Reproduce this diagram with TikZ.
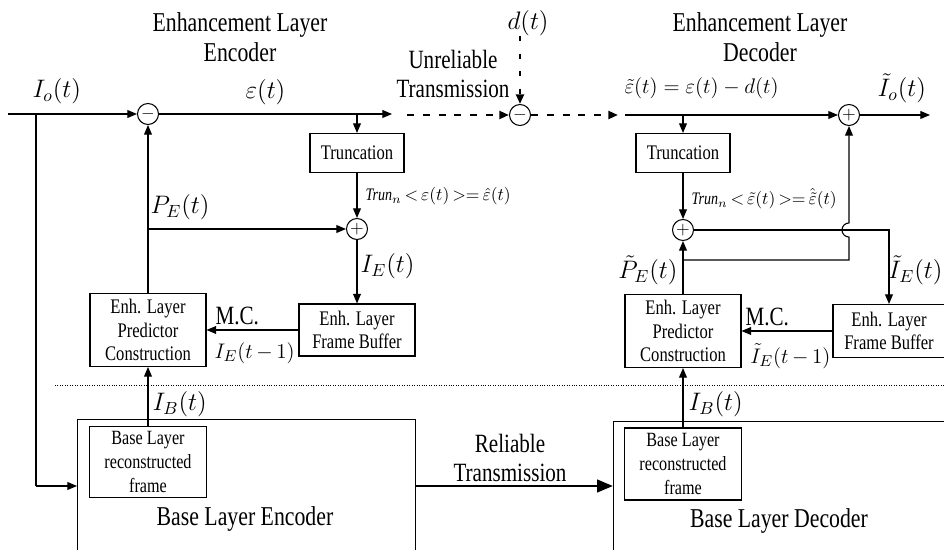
\documentclass[tikz,border=0pt]{standalone}
\usepackage{fontspec}
\setmainfont[FakeStretch=0.8]{Liberation Serif}
\usetikzlibrary{arrows.meta}
\begin{document}
\begin{tikzpicture}[x=0.02cm,y=-0.02cm,line width=0.6pt,
		>={Triangle[length=5.5pt,width=4.5pt]},
		blk/.style={draw,align=center,inner sep=0pt,font=\fontsize{11.8}{13.2}\selectfont},
		sumnode/.style={draw,circle,minimum size=0.42cm,inner sep=0pt,font=\fontsize{10}{10}\selectfont},
		ttl/.style={align=center,font=\fontsize{15.5}{17}\selectfont},
		sig/.style={inner sep=0pt,anchor=west,font=\fontsize{14.5}{14.5}\selectfont},
		trn/.style={inner sep=0pt,anchor=west,font=\fontsize{10}{10}\selectfont},
		lossy/.style={->,line width=1.4pt,dash pattern=on 4pt off 5pt},
		reliable/.style={->,line width=1.7pt,>={Triangle[length=9pt,width=7pt]}}]
	\useasboundingbox (0,0) rectangle (944,550);
	% enhancement layer blocks
	\node[blk,minimum width=1.88cm,minimum height=0.78cm] (trunE) at (357,153) {Truncation};
	\node[blk,minimum width=1.88cm,minimum height=0.78cm] (trunD) at (683,153) {Truncation};
	\node[blk,minimum width=2.32cm,minimum height=1.04cm] (fbE) at (357,330) {Enh. Layer\\Frame Buffer};
	\node[blk,minimum width=2.24cm,minimum height=1.06cm] (fbD) at (889,331) {Enh. Layer\\Frame Buffer};
	\node[blk,minimum width=2.32cm,minimum height=1.46cm] (predE) at (148,330) {Enh. Layer\\Predictor\\Construction};
	\node[blk,minimum width=2.32cm,minimum height=1.46cm] (predD) at (683,331) {Enh. Layer\\Predictor\\Construction};
	\node[sumnode] (subE) at (148,114) {$-$};
	\node[sumnode] (subT) at (520,115) {$-$};
	\node[sumnode] (addE) at (357,229) {$+$};
	\node[sumnode] (addD) at (683,230) {$+$};
	\node[sumnode] (addO) at (849,115) {$+$};
	% base layer
	\node[draw,anchor=north west,minimum width=6.76cm,minimum height=3.6cm] (baseE) at (77,419) {};
	\node[draw,anchor=north west,minimum width=8cm,minimum height=3.6cm] (baseD) at (613,421) {};
	\node[blk,minimum width=2.34cm,minimum height=1.42cm,font=\fontsize{11.5}{13.6}\selectfont] (recE) at (148,462) {Base Layer\\reconstructed\\frame};
	\node[blk,minimum width=2.34cm,minimum height=1.44cm,font=\fontsize{11.5}{13.6}\selectfont] (recD) at (683,464) {Base Layer\\reconstructed\\frame};
	\node[ttl] (baseEtxt) at (245,519) {Base Layer Encoder};
	\node[ttl] (baseDtxt) at (779,521) {Base Layer Decoder};
	% titles
	\node[ttl] (encTitle) at (240,37) {Enhancement Layer\\Encoder};
	\node[ttl] (decTitle) at (760,37) {Enhancement Layer\\Decoder};
	\node[align=center,font=\fontsize{15}{16.5}\selectfont] (unrel) at (453,74) {Unreliable\\Transmission};
	\node[align=center,font=\fontsize{15}{16.5}\selectfont] (rel) at (510,458) {Reliable\\Transmission};
	% free ends and junctions
	\coordinate (src) at (8,114);
	\coordinate (jA) at (36,114);
	\coordinate (jB) at (36,486);
	\coordinate (epsE) at (392,114);
	\coordinate (lossS) at (407,115);
	\coordinate (lossE) at (618,115);
	\coordinate (dS) at (520,36);
	\coordinate (recvS) at (625,115);
	\coordinate (outE) at (930,115);
	\coordinate (jE) at (148,229);
	\coordinate (jP) at (683,260);
	\coordinate (jQ) at (849,260);
	\coordinate (jR) at (849,230);
	% connectors
	\draw[->] (src) -- (subE);
	\draw (jA) -- (jB);
	\draw[->] (jB) -- (baseE.west |- jB);
	\draw[->] (subE) -- (epsE);
	\draw[->] (trunE.north |- subE) -- (trunE);
	\draw[lossy] (lossS) -- (subT);
	\draw[lossy,dash pattern=on 3pt off 7pt] (dS) -- (subT);
	\draw[lossy] (subT) -- (lossE);
	\draw[->] (recvS) -- (addO);
	\draw[->] (trunD.north |- recvS) -- (trunD);
	\draw[->] (addO) -- (outE);
	\draw[->] (trunE) -- (addE);
	\draw[->] (trunD) -- (addD);
	\draw[->] (predE) -- (subE);
	\draw[->] (jE) -- (addE);
	\draw[->] (addE) -- (fbE);
	\draw[->] (fbE) -- (predE);
	\draw[->] (recE) -- (predE);
	\draw[reliable] (baseE.east |- jB) -- (baseD.west |- jB);
	\draw[->] (recD) -- (predD);
	\draw[->] (predD) -- (addD);
	\draw[->] (addD) -| (fbD);
	\draw[->] (fbD) -- (predD);
	\draw[->] (jP) -- (jQ) -- ([yshift=-4pt]jR) arc[start angle=270,end angle=90,radius=4pt] -- (addO);
	\draw[densely dotted,line width=0.4pt] (55,385) -- (944,385);
	% signal labels
	\node[sig] (lIo) at (32,91) {$I_o(t)$};
	\node[sig] (lEps) at (245,92) {$\varepsilon(t)$};
	\node[sig] (lD) at (507,23) {$d(t)$};
	\node[sig,font=\fontsize{13}{13}\selectfont] (lEpsT) at (624,88) {$\tilde{\varepsilon}(t)=\varepsilon(t)-d(t)$};
	\node[sig] (lIoT) at (877,88) {$\tilde{I}_o(t)$};
	\node[trn] (lTrE) at (365,196) {$\textit{Trun}_n\,{<}\,\varepsilon(t)\,{>}{=}\,\hat{\varepsilon}(t)$};
	\node[trn] (lTrD) at (691,199) {$\textit{Trun}_n\,{<}\,\tilde{\varepsilon}(t)\,{>}{=}\,\hat{\tilde{\varepsilon}}(t)$};
	\node[sig] (lPE) at (150,207) {$P_E(t)$};
	\node[sig] (lIE) at (360,266) {$I_E(t)$};
	\node[sig,anchor=east] (lPD) at (678,270) {$\tilde{P}_E(t)$};
	\node[sig,anchor=east] (lID) at (943,270) {$\tilde{I}_E(t)$};
	\node[sig,font=\fontsize{15}{15}\selectfont] (lMcE) at (215,316) {M.C.};
	\node[sig,font=\fontsize{15}{15}\selectfont] (lMcD) at (745,317) {M.C.};
	\node[sig,font=\fontsize{12.5}{12.5}\selectfont] (lIEm) at (214,353) {$I_E(t\,{-}\,1)$};
	\node[sig,font=\fontsize{12.5}{12.5}\selectfont,anchor=east] (lIDm) at (831,356) {$\tilde{I}_E(t\,{-}\,1)$};
	\node[sig] (lIBE) at (152,404) {$I_B(t)$};
	\node[sig] (lIBD) at (688,404) {$I_B(t)$};
\end{tikzpicture}
\end{document}
